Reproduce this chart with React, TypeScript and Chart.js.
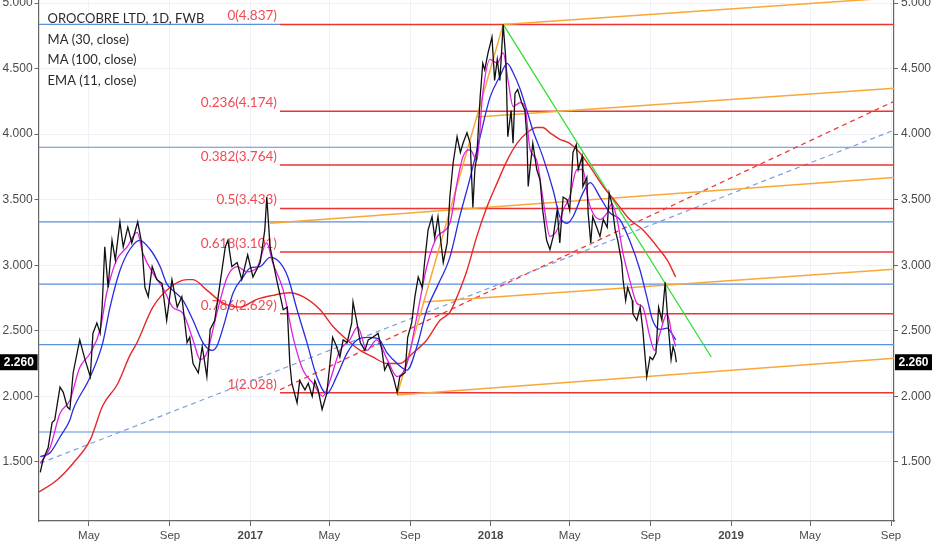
import { useEffect, useRef } from "react";
import { Chart, registerables } from "chart.js";

Chart.register(...registerables);

// x values are days since 2016-01-01
const priceDays = [47,51,59,65,69,77,82,88,92,97,107,115,123,127,133,138,141,145,150,156,161,168,173,180,186,195,201,206,211,217,224,232,239,247,255,262,270,274,279,287,293,300,305,312,320,328,332,338,346,353,362,370,381,388,391,396,406,416,422,426,429,437,441,449,454,460,464,469,475,482,487,491,497,502,507,513,520,522,528,533,540,545,552,560,566,570,575,583,589,593,601,605,611,616,621,627,631,636,642,646,651,659,665,669,674,680,685,689,695,700,704,707,710,715,719,722,727,733,737,741,745,750,754,757,762,765,768,772,778,783,786,788,791,795,801,806,810,816,821,826,832,836,841,847,851,856,861,864,870,871,877,879,883,886,892,897,902,908,911,915,920,924,930,932,936,939,946,947,953,958,962,968,973,977,982,986,991,996,1000,1005,1008,1011,1013];
const priceValues = [1.42,1.51,1.61,1.80,1.82,2.07,2.03,1.92,1.90,2.18,2.43,2.28,2.15,2.48,2.56,2.48,2.68,3.14,2.83,3.19,3.04,3.33,3.14,3.29,3.17,3.33,3.17,2.83,2.76,2.99,2.89,2.86,2.58,2.89,2.68,2.76,2.41,2.45,2.25,2.18,2.38,2.15,2.51,2.58,2.86,3.14,3.19,2.99,3.02,2.89,3.08,2.91,3.02,3.27,3.52,3.14,2.89,2.66,2.68,2.25,2.10,1.95,2.12,2.05,2.10,2.00,2.12,2.05,1.90,2.02,2.25,2.45,2.38,2.30,2.43,2.41,2.56,2.72,2.56,2.41,2.35,2.43,2.45,2.48,2.35,2.20,2.25,2.15,2.03,2.15,2.18,2.45,2.56,2.76,2.91,2.83,3.04,3.27,3.37,3.21,3.37,3.02,3.17,3.52,3.78,3.98,3.86,3.93,4.01,3.93,3.44,3.73,3.83,4.28,4.54,4.49,4.62,4.74,4.41,4.57,4.41,4.837,4.57,3.98,4.18,3.93,4.31,4.34,4.24,4.18,3.98,3.60,3.75,3.93,3.73,3.65,3.42,3.19,3.12,3.22,3.42,3.17,3.52,3.50,3.42,3.86,3.92,3.73,3.83,3.60,3.67,3.40,3.17,3.37,3.29,3.22,3.35,3.29,3.55,3.47,3.27,3.19,3.02,2.89,2.73,2.83,2.73,2.63,2.58,2.68,2.51,2.15,2.30,2.28,2.33,2.68,2.58,2.87,2.58,2.28,2.38,2.33,2.26];

const ma30Days = [47,62,77,92,97,123,142,153,168,183,198,214,229,239,248,264,279,294,308,315,325,340,355,366,381,396,411,423,437,452,467,482,497,513,528,544,560,574,589,604,619,634,651,669,684,700,715,730,745,756,765,776,786,795,810,826,836,847,856,871,882,897,912,927,942,958,968,977,988,999,1006,1012];
const ma30Values = [1.54,1.57,1.69,1.82,1.90,2.15,2.41,2.68,2.96,3.12,3.19,3.12,2.99,2.86,2.81,2.73,2.58,2.41,2.35,2.38,2.53,2.79,2.91,2.98,2.99,3.06,3.02,2.91,2.66,2.41,2.15,2.02,2.15,2.33,2.43,2.45,2.44,2.33,2.25,2.20,2.38,2.66,2.85,3.06,3.37,3.67,3.98,4.28,4.44,4.54,4.47,4.34,4.18,4.03,3.83,3.57,3.37,3.32,3.37,3.55,3.63,3.52,3.40,3.35,3.19,2.96,2.76,2.58,2.51,2.52,2.48,2.43];

const ema11Days = [47,62,77,92,107,123,138,148,163,179,194,203,218,233,248,264,279,290,300,315,331,346,361,376,391,400,416,431,446,461,476,487,502,517,529,543,558,574,589,604,619,634,650,669,680,689,700,710,719,730,741,750,758,765,776,783,791,801,810,821,832,841,851,862,871,879,886,897,908,915,923,932,942,953,962,973,980,988,999,1006,1012];
const ema11Values = [1.49,1.61,1.87,1.97,2.22,2.33,2.51,2.79,3.04,3.14,3.25,3.09,2.94,2.83,2.68,2.63,2.43,2.28,2.33,2.63,2.91,2.99,2.95,2.98,3.17,3.02,2.81,2.45,2.20,2.10,2.00,2.12,2.35,2.43,2.53,2.35,2.43,2.28,2.15,2.25,2.61,2.99,3.22,3.32,3.63,3.83,3.88,3.80,4.31,4.57,4.54,4.62,4.39,4.21,4.24,4.21,3.88,3.80,3.52,3.22,3.27,3.42,3.52,3.73,3.73,3.50,3.40,3.35,3.40,3.47,3.35,3.09,2.89,2.71,2.68,2.45,2.35,2.48,2.63,2.48,2.38];

const ma100Days = [45,72,97,123,142,164,183,194,218,244,270,279,300,325,350,376,400,426,446,472,492,513,533,552,574,593,613,634,654,669,680,695,710,725,741,756,771,786,801,810,821,836,851,866,882,902,923,942,962,984,999,1012];
const ma100Values = [1.27,1.36,1.49,1.67,1.93,2.09,2.31,2.41,2.68,2.83,2.89,2.89,2.81,2.71,2.68,2.74,2.77,2.79,2.76,2.66,2.53,2.43,2.35,2.30,2.25,2.25,2.33,2.43,2.58,2.64,2.76,2.96,3.22,3.44,3.63,3.80,3.93,4.01,4.05,4.05,4.01,3.96,3.93,3.86,3.75,3.60,3.47,3.35,3.27,3.14,3.04,2.91];

const monthTickDays = [121,244,366,486,609,731,851,974,1096,1216,1339];
const monthTickLabels = ["May","Sep","2017","May","Sep","2018","May","Sep","2019","May","Sep"];
const yTickValues = [1.5,2,2.5,3,3.5,4,4.5,5];

const fibRatios = ["0","0.236","0.382","0.5","0.618","0.786","1"];
const fibLevels = [4.837,4.174,3.764,3.433,3.101,2.629,2.028];
const fibStartDay = 411;
const blueLevels = [3.90,3.33,2.856,2.395,1.728];
const legendLines = ["OROCOBRE LTD, 1D, FWB","MA (30, close)","MA (100, close)","EMA (11, close)"];
const lastPrice = 2.26;

const X_MIN = 44.5, X_MAX = 1343.5, Y_MIN = 1.049, Y_MAX = 5.023;

// trend lines: [day1, value1, day2, value2]
const orangeLines = [
  [750, 4.837, 1343.5, 5.04],
  [709, 4.13, 1343.5, 4.35],
  [396, 3.32, 1343.5, 3.67],
  [628, 2.72, 1343.5, 2.97],
  [589, 2.01, 1343.5, 2.29],
  [589, 2.01, 750, 4.837],
];
const greenLine = [750, 4.837, 1066, 2.30];
const blueDashed = [47, 1.49, 1343.5, 4.03];
const redDashed = [411, 2.05, 1343.5, 4.25];

const FONT = "'Liberation Sans', Arial, sans-serif";

function seg(a: number[], color: string, width: number, dash: number[] = [], order = 20) {
  return {
    data: [{ x: a[0], y: a[1] }, { x: a[2], y: a[3] }],
    borderColor: color,
    borderWidth: width,
    borderDash: dash,
    pointRadius: 0,
    tension: 0,
    order,
    yAxisID: "y",
  };
}

function series(days: number[], vals: number[], color: string, width: number, order: number, smooth: boolean) {
  return {
    data: days.map((d, i) => ({ x: d, y: vals[i] })),
    borderColor: color,
    borderWidth: width,
    pointRadius: 0,
    order,
    tension: smooth ? 0.4 : 0,
    cubicInterpolationMode: smooth ? "monotone" : "default",
    yAxisID: "y",
  };
}

const overlayPlugin = {
  id: "overlay",
  beforeDatasetsDraw(chart: any) {
    const { ctx } = chart;
    const xs = chart.scales.x;
    const ys = chart.scales.y;
    ctx.save();
    ctx.font = "13.5px Lato";
    ctx.fillStyle = "#f04a55";
    ctx.textAlign = "right";
    ctx.textBaseline = "alphabetic";
    const x0 = xs.getPixelForValue(fibStartDay) - 3;
    fibLevels.forEach((lv, i) => {
      ctx.fillText(`${fibRatios[i]}(${lv.toFixed(3)})`, x0, ys.getPixelForValue(lv) - 4);
    });
    ctx.restore();
  },
  afterDraw(chart: any) {
    const { ctx, chartArea, width } = chart;
    const ys = chart.scales.y;
    ctx.save();
    ctx.font = "13px Lato";
    ctx.fillStyle = "#2b2b2b";
    ctx.textAlign = "left";
    ctx.textBaseline = "alphabetic";
    legendLines.forEach((t, i) => {
      ctx.fillText(t, chartArea.left + 9, 23 + i * 20.7);
    });
    const y = ys.getPixelForValue(lastPrice);
    ctx.fillStyle = "#000";
    ctx.fillRect(0, y - 8, chartArea.left - 1, 16);
    ctx.fillRect(chartArea.right + 1, y - 8, width - chartArea.right - 1, 16);
    ctx.fillStyle = "#fff";
    ctx.font = `bold 12px ${FONT}`;
    ctx.textAlign = "center";
    ctx.textBaseline = "middle";
    const label = lastPrice.toFixed(3);
    ctx.fillText(label, (chartArea.left - 1) / 2, y + 0.5);
    ctx.fillText(label, (chartArea.right + 1 + width) / 2, y + 0.5);
    ctx.restore();
  },
};

export default function App() {
  const ref = useRef<HTMLCanvasElement | null>(null);
  useEffect(() => {
    document.body.style.margin = "0";
    const canvas = ref.current;
    if (!canvas) return;
    const datasets: any[] = [];
    blueLevels.forEach((lv) => datasets.push(seg([X_MIN, lv, X_MAX, lv], "#5b8fe0", 1.2, [], 30)));
    datasets.push(seg([X_MIN, fibLevels[0], fibStartDay, fibLevels[0]], "#5b8fe0", 1.2, [], 30));
    datasets.push(seg(blueDashed, "#7b9fe0", 1.2, [5, 4], 25));
    datasets.push(seg(redDashed, "#ee3b3b", 1.3, [5, 4], 25));
    fibLevels.forEach((lv) => datasets.push(seg([fibStartDay, lv, X_MAX, lv], "#ee3333", 1.5, [], 22)));
    orangeLines.forEach((l) => datasets.push(seg(l, "#f8a838", 1.5, [], 21)));
    datasets.push(seg(greenLine, "#33dd33", 1.3, [], 21));
    datasets.push(series(ma100Days, ma100Values, "#e82828", 1.4, 5, true));
    datasets.push(series(ma30Days, ma30Values, "#2a2ae0", 1.3, 4, true));
    datasets.push(series(ema11Days, ema11Values, "#e020e0", 1.3, 3, true));
    datasets.push(series(priceDays, priceValues, "#111111", 1.3, 1, false));

    const zeroPad = (s: any) => {
      s.paddingTop = 0;
      s.paddingBottom = 0;
      s.paddingLeft = 0;
      s.paddingRight = 0;
    };

    const yCommon = {
      type: "linear",
      min: Y_MIN,
      max: Y_MAX,
      afterBuildTicks: (s: any) => {
        s.ticks = yTickValues.map((v) => ({ value: v }));
      },
      ticks: {
        callback: (v: any) => Number(v).toFixed(3),
        color: "#4a4a4a",
        font: { size: 12, family: FONT },
        padding: 2,
      },
      border: { display: true, color: "#666", width: 1.2 },
    };

    const chart = new Chart(canvas, {
      type: "line",
      data: { datasets },
      options: {
        responsive: false,
        animation: false,
        events: [],
        layout: { padding: 0 },
        plugins: { legend: { display: false }, tooltip: { enabled: false } },
        scales: {
          x: {
            type: "linear",
            min: X_MIN,
            max: X_MAX,
            afterBuildTicks: (s: any) => {
              s.ticks = monthTickDays.map((v) => ({ value: v }));
            },
            afterFit: (s: any) => {
              s.height = 29;
              zeroPad(s);
            },
            ticks: {
              autoSkip: false,
              maxRotation: 0,
              padding: 3,
              color: "#4a4a4a",
              callback: (_v: any, i: number) => monthTickLabels[i],
              font: (c: any) => ({
                size: 11.5,
                family: FONT,
                weight: /^\d{4}$/.test(monthTickLabels[c.index] || "") ? "bold" : "normal",
              }),
            },
            grid: { color: "#eef1f5", tickColor: "#666", tickLength: 5, lineWidth: 1 },
            border: { display: true, color: "#666", width: 1.2 },
          },
          y: {
            ...yCommon,
            position: "left",
            afterFit: (s: any) => {
              s.width = 38.6;
              zeroPad(s);
            },
            grid: { color: "#eef1f5", tickColor: "#666", tickLength: 4 },
          },
          y2: {
            ...yCommon,
            position: "right",
            afterFit: (s: any) => {
              s.width = 38;
              zeroPad(s);
            },
            ticks: { ...yCommon.ticks, padding: 3 },
            grid: { drawOnChartArea: false, tickColor: "#666", tickLength: 4 },
          },
        },
      } as any,
      plugins: [overlayPlugin],
    } as any);
    return () => chart.destroy();
  }, []);

  return (
    <div style={{ width: 932, height: 550, position: "relative", background: "#fff" }}>
      <canvas ref={ref} width={932} height={550} style={{ display: "block" }} />
    </div>
  );
}
